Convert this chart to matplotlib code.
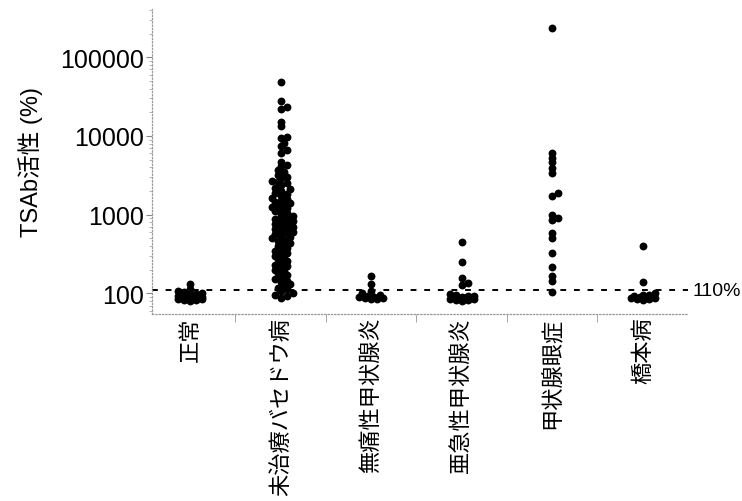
import numpy as np
import matplotlib.pyplot as plt
from matplotlib.ticker import FixedLocator, NullFormatter

plt.rcParams['font.family'] = ['Liberation Sans', 'Noto Sans CJK JP']

# --- Data (TSAb activity, %) -------------------------------------------------

categories = ["正常", "未治療バセドウ病", "無痛性甲状腺炎",
              "亜急性甲状腺炎", "甲状腺眼症", "橋本病"]

normal = [132, 115, 108, 104, 101, 99, 97, 96, 95, 94, 93, 92, 91, 90,
          89, 88, 87, 87, 86, 85, 84, 84, 83, 82, 81]

graves = [48000, 27500, 23600, 21800, 15200, 13200, 9800, 9300, 8200, 7400,
          6700, 6100, 4700, 4300, 4100, 3700, 3500, 3200, 3000, 2900, 2700,
          2600, 2500, 2350, 2200, 2100, 2000, 1900, 1850, 1750, 1650, 1600,
          1500, 1450, 1400, 1350, 1300, 1250, 1200, 1150, 1100, 1050, 1000,
          960, 920, 880, 850, 820, 790, 760, 730, 700, 680, 650, 620, 600,
          580, 560, 540, 520, 500, 480, 460, 440, 420, 400, 380, 360, 345,
          330, 315, 300, 285, 270, 255, 240, 230, 220, 210, 200, 190, 180,
          170, 160, 152, 145, 138, 130, 124, 118, 112, 106, 100, 96, 92, 88]

painless = [165, 130, 108, 100, 96, 93, 91, 89, 88, 86, 85, 84]

subacute = [448, 249, 156, 134, 126, 98, 95, 93, 92, 90, 89, 88, 87, 86,
            85, 84, 83, 82, 81]

ophthalmopathy = [234000, 6100, 5300, 4600, 3900, 3400, 1900, 1730, 990,
                  900, 860, 580, 500, 325, 215, 165, 142, 103]

hashimoto = [398, 138, 100, 96, 94, 92, 90, 89, 88, 87, 86, 85, 84, 83]

groups = [normal, graves, painless, subacute, ophthalmopathy, hashimoto]

cutoff = 110


# --- Simple beeswarm layout (pixel space) ------------------------------------

def swarm_offsets(ypix, diam=7.5, max_half=13.0, overlap=0.6):
    """Horizontal offsets (px) so points overlap only partially."""
    step = diam * 0.4
    cands = [0.0]
    k = 1
    while k * step <= max_half:
        cands += [k * step, -k * step]
        k += 1
    cands = np.array(cands)
    mind = overlap * diam
    placed_x, placed_y = [], []
    offs = np.zeros(len(ypix))
    for i in np.argsort(ypix):
        y = ypix[i]
        px = np.array(placed_x)
        py = np.array(placed_y)
        best, best_d = cands[0], -1.0
        for c in cands:
            if len(px) == 0:
                best = c
                break
            d = np.min(np.hypot(px - c, py - y))
            if d >= mind:
                best = c
                break
            if d > best_d:
                best, best_d = c, d
        offs[i] = best
        placed_x.append(best)
        placed_y.append(y)
    return offs


# --- Figure ------------------------------------------------------------------

fig = plt.figure(figsize=(7.42, 5.02), dpi=100)
ax = fig.add_axes([0.205, 0.373, 0.722, 0.607])
ax.set_yscale('log')
ax.set_ylim(55, 410000)
ax.set_xlim(-0.42, 5.5)

px_per_unit = ax.transData.transform((1, 1))[0] - ax.transData.transform((0, 1))[0]

for i, vals in enumerate(groups):
    vals = np.asarray(vals, dtype=float)
    ypix = ax.transData.transform(np.column_stack([np.full(len(vals), i), vals]))[:, 1]
    offs = swarm_offsets(ypix)
    ax.scatter(i + offs / px_per_unit, vals, s=32, c='black', lw=0, zorder=3)

ax.axhline(cutoff, color='black', ls=(0, (3, 4)), lw=1.4, zorder=2)
ax.text(1.008, cutoff, f"{cutoff}%", transform=ax.get_yaxis_transform(),
        va='center', ha='left', fontsize=14, clip_on=False)

# axes styling
for side in ['top', 'right']:
    ax.spines[side].set_visible(False)
for side in ['left', 'bottom']:
    ax.spines[side].set_color('#999999')
    ax.spines[side].set_linestyle(':')
    ax.spines[side].set_linewidth(0.9)

ax.set_yticks([100, 1000, 10000, 100000])
ax.set_yticklabels(["100", "1000", "10000", "100000"], fontsize=18)
ax.yaxis.set_minor_formatter(NullFormatter())
ax.tick_params(axis='y', which='major', length=4, color='#888888', pad=2)
ax.tick_params(axis='y', which='minor', length=2, color='#aaaaaa')

ax.set_xticks(range(len(categories)))
ax.set_xticklabels(categories, rotation=90, fontsize=16,
                   family=['Noto Sans CJK JP', 'DejaVu Sans'])
ax.xaxis.set_minor_locator(FixedLocator([0.5, 1.5, 2.5, 3.5, 4.5]))
ax.tick_params(axis='x', which='major', length=0, pad=2)
ax.tick_params(axis='x', which='minor', length=6, color='#999999')

ax.set_ylabel("TSAb活性 (%)", fontsize=17, labelpad=12)

fig.savefig('out.png', dpi=100)
